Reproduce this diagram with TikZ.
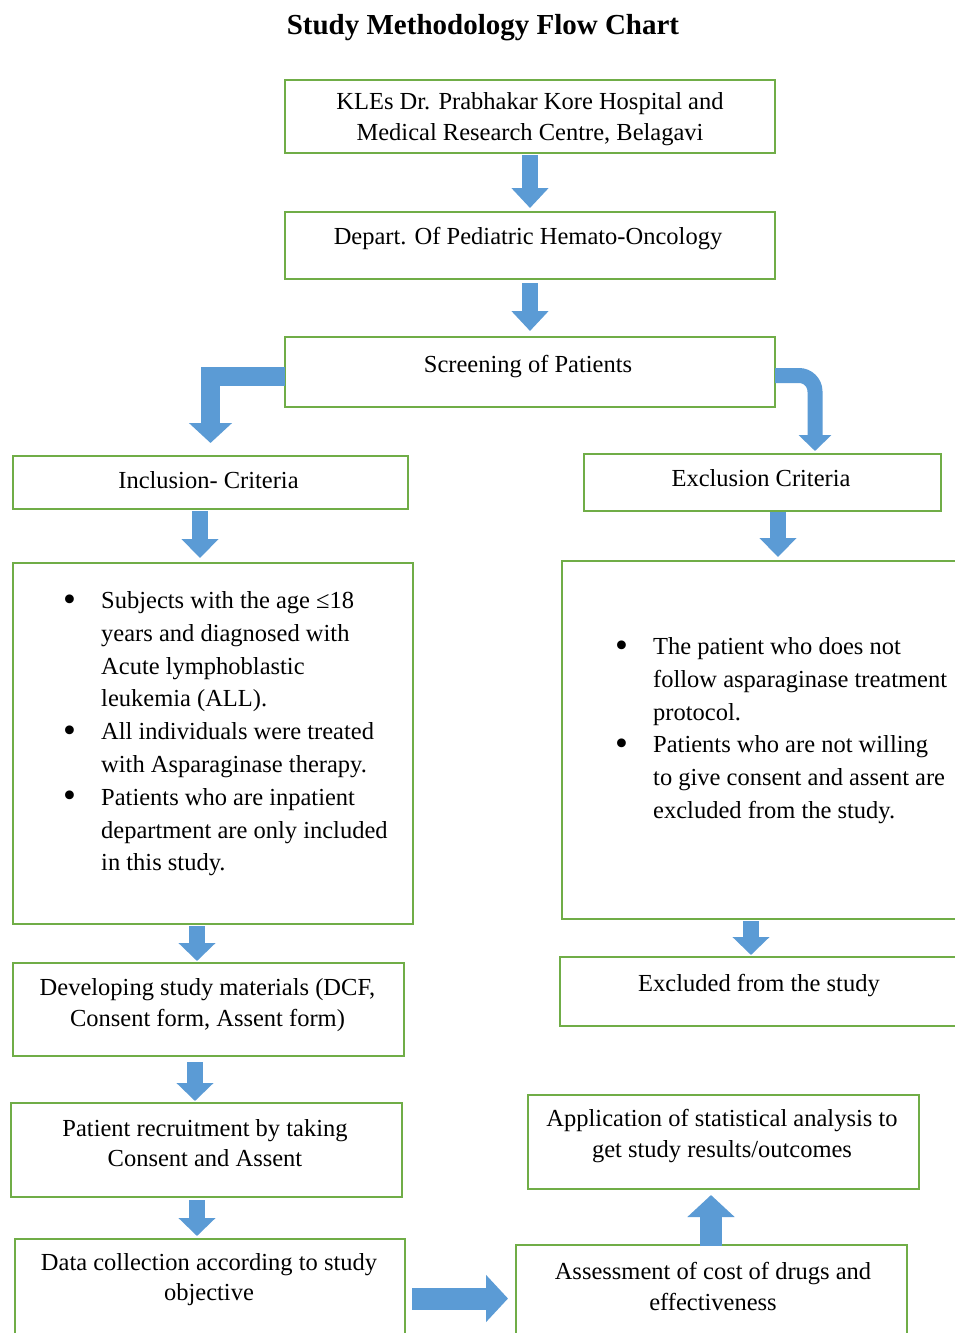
\documentclass[tikz,border=0pt]{standalone}
\usepackage{fontspec}
\setmainfont{Liberation Serif}
\usetikzlibrary{arrows.meta,calc}
\definecolor{boxgreen}{HTML}{70AD47}
\definecolor{arrowblue}{HTML}{5B9BD5}
\newcommand{\bodyfont}{\fontsize{24.5}{30.5}\selectfont}
\newcommand{\listfont}{\fontsize{24.5}{32.8}\selectfont}
\newcommand{\bigbul}{\raisebox{-2.5pt}{\scalebox{1.5}{\textbullet}}}
\newcommand{\mybox}[5]{%
  \pgfmathsetmacro\mbxx{(#2+#4)/2}\pgfmathsetmacro\mbxy{(#3+#5)/2}%
  \pgfmathsetmacro\mbxw{#4-#2}\pgfmathsetmacro\mbxh{#5-#3}%
  \node[flowbox, minimum width=\mbxw pt, minimum height=\mbxh pt] (#1) at (\mbxx,\mbxy) {};}
\tikzset{
  flowbox/.style={draw=boxgreen, line width=1.8pt, fill=white, inner sep=0pt, outer sep=0pt},
  txt/.style={align=center, inner sep=0pt, font=\bodyfont},
  barrow/.style n args={3}{draw=arrowblue, line width=#1pt, line join=miter,
    -{Triangle[width=#2pt,length=#3pt]}},
}
\begin{document}
\begin{tikzpicture}[x=1pt,y=-1pt]
\useasboundingbox (0,0) rectangle (955,1333);
\fill[white] (0,0) rectangle (955,1333);

% title
\node[inner sep=0pt, font=\fontsize{29}{34}\selectfont\bfseries] (title) at (483,28) {Study Methodology Flow Chart};

% boxes
\mybox{kle}{285}{80}{775}{153}
\mybox{dep}{285}{212}{775}{279}
\mybox{scr}{285}{337}{775}{407}
\mybox{inc}{13}{456}{408}{509}
\mybox{exc}{584}{454}{941}{511}
\mybox{incl}{13}{563}{413}{924}
\mybox{excl}{562}{561}{975}{919}
\mybox{dev}{13}{963}{404}{1056}
\mybox{excd}{560}{957}{975}{1026}
\mybox{rec}{11}{1103}{402}{1197}
\mybox{app}{528}{1095}{919}{1189}
\mybox{data}{15}{1239}{405}{1350}
\mybox{ass}{516}{1245}{907}{1350}

% texts
\node[txt] (t-kle) at (530,119) {KLEs Dr. Prabhakar Kore Hospital and\\Medical Research Centre, Belagavi};
\node[txt] (t-dep) at (528,239) {Depart. Of Pediatric Hemato-Oncology};
\node[txt] (t-scr) at (528,367) {Screening of Patients};
\node[txt] (t-inc) at (208.5,480) {Inclusion- Criteria};
\node[txt] (t-exc) at (761,478) {Exclusion Criteria};
\node[txt] (t-dev) at (207.5,1005) {Developing study materials (DCF,\\Consent form, Assent form)};
\node[txt] (t-excd) at (759,986) {Excluded from the study};
\node[txt] (t-rec) at (205,1143) {Patient recruitment by taking\\Consent and Assent};
\node[txt] (t-app) at (722,1136) {Application of statistical analysis to\\get study results/outcomes};
\node[txt] (t-data) at (209,1279.5) {Data collection according to study\\objective};
\node[txt] (t-ass) at (713,1286.5) {Assessment of cost of drugs and\\effectiveness};

\node[anchor=north west, inner sep=0pt, font=\listfont] (t-incl) at (63,585.4) {%
\begin{tabular}{@{}p{38pt}@{}l@{}}
\bigbul & Subjects with the age ≤18\\
 & years and diagnosed with\\
 & Acute lymphoblastic\\
 & leukemia (ALL).\\
\bigbul & All individuals were treated\\
 & with Asparaginase therapy.\\
\bigbul & Patients who are inpatient\\
 & department are only included\\
 & in this study.
\end{tabular}};
\node[anchor=north west, inner sep=0pt, font=\listfont] (t-excl) at (615,631.4) {%
\begin{tabular}{@{}p{38pt}@{}l@{}}
\bigbul & The patient who does not\\
 & follow asparaginase treatment\\
 & protocol.\\
\bigbul & Patients who are not willing\\
 & to give consent and assent are\\
 & excluded from the study.
\end{tabular}};

% arrow x positions
\coordinate (xa) at (200,0);
\coordinate (xb) at (778,0);
\coordinate (xc) at (197,0);
\coordinate (xd) at (751,0);
\coordinate (xe) at (195,0);
\coordinate (xf) at (197,0);
\coordinate (xg) at (711,0);
\coordinate (xr) at (815,0);
\coordinate (yh) at (0,1298.5);

% arrows
\draw[barrow={16}{36}{20}] ($(kle.south)+(0,2)$) -- ($(dep.north)+(0,-4)$);
\draw[barrow={16}{36}{20}] ($(dep.south)+(0,4)$) -- ($(scr.north)+(0,-6)$);
\draw[barrow={19}{42}{20}] ($(scr.west)+(0,4.5)$) -| ($(inc.north)+(0,-13)$);
\draw[barrow={15}{32}{16}, rounded corners=16pt] ($(scr.east)+(0,3.5)$) -| ($(exc.north -| xr)+(0,-3)$);
\draw[barrow={16}{36}{19}] ($(inc.south -| xa)+(0,2)$) -- ($(incl.north -| xa)+(0,-5)$);
\draw[barrow={16}{36}{19}] ($(exc.south -| xb)+(0,1)$) -- ($(excl.north -| xb)+(0,-4)$);
\draw[barrow={16}{36}{18}] ($(incl.south -| xc)+(0,2)$) -- ($(dev.north -| xc)+(0,-2)$);
\draw[barrow={16}{36}{18}] ($(excl.south -| xd)+(0,2)$) -- ($(excd.north -| xd)+(0,-2)$);
\draw[barrow={16}{36}{18}] ($(dev.south -| xe)+(0,6)$) -- ($(rec.north -| xe)+(0,-2)$);
\draw[barrow={16}{36}{18}] ($(rec.south -| xf)+(0,3)$) -- ($(data.north -| xf)+(0,-3)$);
\draw[barrow={22}{46}{22}] ($(ass.north -| xg)+(0,1)$) -- ($(app.south -| xg)+(0,6)$);
\draw[barrow={22}{46}{22}] ($(data.east |- yh)+(7,0)$) -- ($(ass.west |- yh)+(-8,0)$);
\end{tikzpicture}
\end{document}
